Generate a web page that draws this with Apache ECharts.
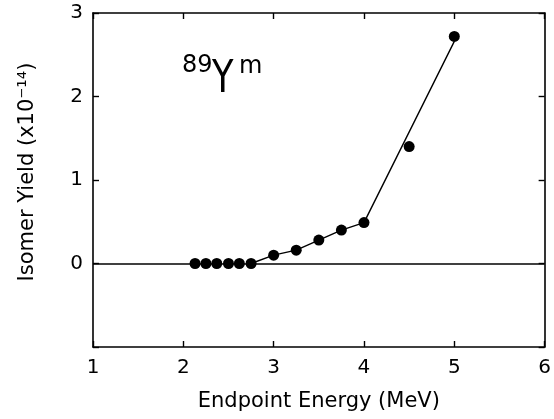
<!DOCTYPE html>
<html><head><meta charset="utf-8">
<script src="https://cdn.jsdelivr.net/npm/echarts@6/dist/echarts.min.js"></script>
<style>html,body{margin:0;padding:0;background:#fff}#c{width:554px;height:419px}</style>
</head><body><div id="c"></div>
<script>
const energies = [2.13, 2.25, 2.37, 2.50, 2.62, 2.75, 3.0, 3.25, 3.5, 3.75, 4.0, 4.5, 5.0];
const yields   = [0, 0, 0, 0, 0, 0, 0.10, 0.16, 0.28, 0.40, 0.49, 1.40, 2.72];
const fitE = [2.75, 3.0, 3.25, 3.5, 3.75, 4.0, 5.0];
const fitY = [0, 0.10, 0.16, 0.28, 0.40, 0.49, 2.66];
const xTicks = [1, 2, 3, 4, 5, 6];
const yTicks = [-1, 0, 1, 2, 3];
const FONT = 'DejaVu Sans';
const chart = echarts.init(document.getElementById('c'));
const axisCommon = {
  axisLine: {show: true, onZero: false, lineStyle: {color: '#000', width: 1.6}},
  axisTick: {show: true, inside: true, length: 6, lineStyle: {color: '#000', width: 1.4}},
  splitLine: {show: false}
};
chart.setOption({
  animation: false,
  grid: {left: 93, right: 4, top: 13, bottom: 72},
  xAxis: [
    Object.assign({type: 'value', min: 1, max: 6, interval: 1, position: 'bottom',
      axisLabel: {color: '#000', fontFamily: FONT, fontSize: 20, margin: 11,
        formatter: v => xTicks.includes(v) ? String(v) : ''},
      name: 'Endpoint Energy (MeV)', nameLocation: 'middle', nameGap: 44,
      nameTextStyle: {color: '#000', fontFamily: FONT, fontSize: 21}}, axisCommon),
    Object.assign({type: 'value', min: 1, max: 6, interval: 1, position: 'top',
      axisLabel: {show: false}}, axisCommon)
  ],
  yAxis: [
    Object.assign({type: 'value', min: -1, max: 3, interval: 1, position: 'left',
      axisLabel: {color: '#000', fontFamily: FONT, fontSize: 20, margin: 10,
        formatter: v => (yTicks.includes(v) && v !== -1) ? String(v) : ''},
      name: 'Isomer Yield (x10\u207B\u00B9\u2074)', nameLocation: 'middle', nameGap: 55, nameRotate: 90,
      nameTextStyle: {color: '#000', fontFamily: FONT, fontSize: 21, padding: [0, 0, 0, 16]}}, axisCommon),
    Object.assign({type: 'value', min: -1, max: 3, interval: 1, position: 'right',
      axisLabel: {show: false}}, axisCommon)
  ],
  series: [
    {type: 'line', data: fitE.map((e, i) => [e, fitY[i]]), symbol: 'none',
     lineStyle: {color: '#000', width: 1.4}, z: 2,
     markLine: {silent: true, symbol: 'none', label: {show: false},
       lineStyle: {color: '#000', width: 1.6, type: 'solid'}, data: [{yAxis: 0}]}},
    {type: 'scatter', data: energies.map((e, i) => [e, yields[i]]), symbol: 'circle',
     symbolSize: 11, itemStyle: {color: '#000', opacity: 1}, z: 3}
  ],
  graphic: [
    {type: 'text', x: 182, y: 66, style: {text: '89', fontFamily: FONT, fontSize: 24, fill: '#000', verticalAlign: 'middle'}},
    {type: 'text', x: 212, y: 81, scaleX: 0.8, style: {text: 'Y', fontFamily: FONT, fontSize: 44, fill: '#000', verticalAlign: 'middle'}},
    {type: 'text', x: 239, y: 67, style: {text: 'm', fontFamily: FONT, fontSize: 24, fill: '#000', verticalAlign: 'middle'}}
  ]
});
</script></body></html>
